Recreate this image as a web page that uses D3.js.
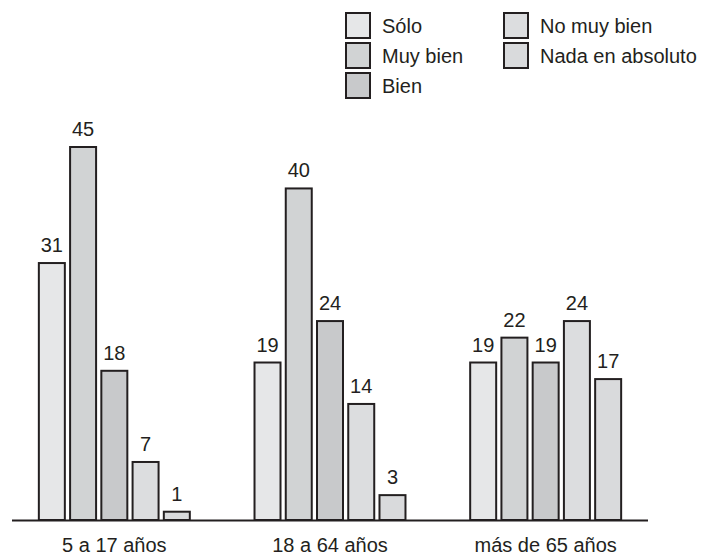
<!DOCTYPE html>
<html>
<head>
<meta charset="utf-8">
<script src="https://cdn.jsdelivr.net/npm/d3@7"></script>
<style>
  body { margin: 0; background: #fff; }
  text { font-family: "Liberation Sans", Arial, sans-serif; fill: #231f20; }
</style>
</head>
<body>
<svg id="chart" width="709" height="557"></svg>
<script>
// data
const groups = ["5 a 17 años", "18 a 64 años", "más de 65 años"];
const series = ["Sólo", "Muy bien", "Bien", "No muy bien", "Nada en absoluto"];
const solo = [31, 19, 19];
const muyBien = [45, 40, 22];
const bien = [18, 24, 19];
const noMuyBien = [7, 14, 24];
const nada = [1, 3, 17];
const palette = ["#e6e7e8", "#d1d3d4", "#c8c9cb", "#dcdddf", "#d9dadc"];

const values = [solo, muyBien, bien, noMuyBien, nada];

const svg = d3.select("#chart");
const baseline = 520;
const fontSize = "20px";

// scales
const x0 = d3.scaleBand()
  .domain(groups)
  .range([6.5, 653.5])
  .paddingInner(0.3)
  .paddingOuter(0.15);

const x1 = d3.scaleBand()
  .domain(series)
  .range([0, x0.bandwidth()])
  .paddingInner(0.168);

const y = d3.scaleLinear()
  .domain([0, 45])
  .range([baseline, 147]);

// flatten to one row per bar
const rows = [];
groups.forEach((g, gi) => {
  series.forEach((s, si) => {
    rows.push({ group: g, serie: s, value: values[si][gi], color: palette[si] });
  });
});

const bars = svg.append("g");

bars.selectAll("rect")
  .data(rows)
  .join("rect")
  .attr("x", d => x0(d.group) + x1(d.serie))
  .attr("y", d => y(d.value))
  .attr("width", x1.bandwidth())
  .attr("height", d => baseline - y(d.value))
  .attr("fill", d => d.color)
  .attr("stroke", "#231f20")
  .attr("stroke-width", 2);

// value labels
bars.selectAll("text")
  .data(rows)
  .join("text")
  .attr("x", d => x0(d.group) + x1(d.serie) + x1.bandwidth() / 2)
  .attr("y", d => y(d.value) - 11)
  .attr("text-anchor", "middle")
  .style("font-size", fontSize)
  .text(d => d.value);

// x axis: a plain line plus centered group labels
svg.append("line")
  .attr("x1", 12)
  .attr("x2", 648)
  .attr("y1", baseline + 0.5)
  .attr("y2", baseline + 0.5)
  .attr("stroke", "#231f20")
  .attr("stroke-width", 2);

svg.append("g")
  .selectAll("text")
  .data(groups)
  .join("text")
  .attr("x", d => x0(d) + x0.bandwidth() / 2)
  .attr("y", 552)
  .attr("text-anchor", "middle")
  .style("font-size", fontSize)
  .text(d => d);

// legend, two columns
const legendPos = [
  [346, 13], [346, 43], [346, 73],
  [504, 13], [504, 43]
];

const legend = svg.append("g")
  .selectAll("g")
  .data(series)
  .join("g")
  .attr("transform", (d, i) => `translate(${legendPos[i][0]},${legendPos[i][1]})`);

legend.append("rect")
  .attr("width", 24)
  .attr("height", 25)
  .attr("fill", (d, i) => palette[i])
  .attr("stroke", "#231f20")
  .attr("stroke-width", 2);

legend.append("text")
  .attr("x", 36)
  .attr("y", 20)
  .style("font-size", fontSize)
  .text(d => d);
</script>
</body>
</html>
